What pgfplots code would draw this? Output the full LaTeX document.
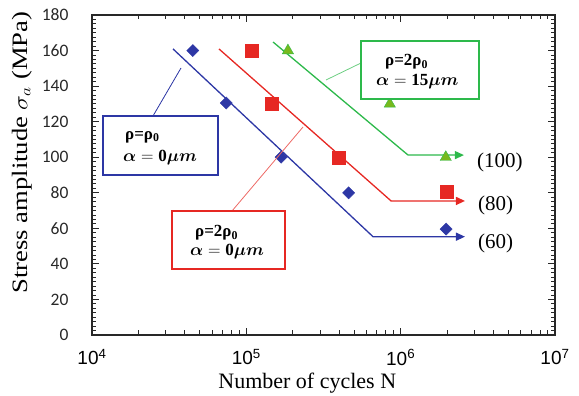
\documentclass[border=0pt]{standalone}
\usepackage{fontspec}
\setmainfont{Liberation Serif}
\setsansfont{Liberation Sans}
\newfontfamily\carlito{Carlito}
\usepackage{bm}
\usepackage{graphicx}
\usepackage{pgfplots}
\pgfplotsset{compat=1.18}
\usetikzlibrary{arrows.meta}
\definecolor{cblue}{RGB}{45,55,165}
\definecolor{cred}{RGB}{230,40,35}
\definecolor{cgreen}{RGB}{45,185,75}
\definecolor{cgfill}{RGB}{120,185,30}
\definecolor{axgray}{RGB}{40,40,40}
\begin{document}
\begin{tikzpicture}
\begin{axis}[
  at={(0,0)}, anchor=south west,
  scale only axis, width=463pt, height=320pt,
  xmode=log, log basis x=10,
  xmin=1e4, xmax=1e7, ymin=0, ymax=180,
  xtick={1e4,1e5,1e6,1e7},
  xticklabels={10\textsuperscript{4},10\textsuperscript{5},10\textsuperscript{6},10\textsuperscript{7}},
  xticklabel style={font=\sffamily\fontsize{19}{19}\selectfont, yshift=-11pt},
  ytick={0,20,...,180},
  yticklabel style={font=\carlito\fontsize{17.5}{17.5}\selectfont, xshift=-20pt, text=axgray},
  /pgf/number format/assume math mode=true,
  minor y tick num=7,
  xtick style={draw=none}, ytick style={draw=none},
  xlabel={Number of cycles N},
  ylabel={\scalebox{1.21}[1]{Stress amplitude $\sigma_a$ (MPa)}},
  label style={font=\fontsize{22}{22}\selectfont},
  xlabel style={at={(axis description cs:0.465,-0.15)}, anchor=center},
  ylabel style={at={(axis description cs:-0.151,0.57)}, anchor=center},
  clip=false,
]
% fitted lines
\addplot[cblue, line width=1.3pt, -{Triangle[length=9pt,width=8pt]}] coordinates {(3.35e4,160.9) (6.62e5,55.3) (2.61e6,55.3)};
\addplot[cred, line width=1.3pt, -{Triangle[length=9pt,width=8pt]}] coordinates {(6.65e4,160.9) (8.67e5,75.4) (2.61e6,75.4)};
\addplot[cgreen, line width=1.3pt, -{Triangle[length=9pt,width=8pt]}] coordinates {(1.49e5,164.8) (1.117e6,101.2) (2.57e6,101.2)};
% data
\addplot[only marks, mark=square*, mark size=4.3pt, mark options={rotate=45, fill=cblue, draw=cblue}] coordinates {(4.5e4,160) (7.4e4,130.5) (1.68e5,100) (4.6e5,80) (1.97e6,59.6)};
\addplot[only marks, mark=square*, mark size=6.5pt, mark options={fill=cred, draw=cred}] coordinates {(1.09e5,160) (1.47e5,130) (3.98e5,100) (2.0e6,80.4)};
\addplot[only marks, mark=triangle*, mark size=6.5pt, mark options={fill=cgfill, draw=cgreen}] coordinates {(1.86e5,160) (8.5e5,130) (1.96e6,100)};
\end{axis}
\begin{scope}[x=1pt, y=-1pt, shift={(-92pt,335pt)}]
  % frame and inward ticks
  \foreach \i in {0,...,72} {
    \draw[axgray, line width=0.9pt] (92,{335-\i*4.44444}) -- ++(4.5,0);
    \draw[axgray, line width=0.9pt] (555,{335-\i*4.44444}) -- ++(-4.5,0);
  }
  \foreach \i in {1,...,8} {
    \draw[axgray, line width=0.9pt] (92,{335-\i*35.5556}) -- ++(7,0);
    \draw[axgray, line width=0.9pt] (555,{335-\i*35.5556}) -- ++(-7,0);
  }
  \foreach \d in {0,154.333,308.667} {
    \foreach \m in {46.45,73.62,92.90,107.85,120.07,130.40,139.35,147.24} {
      \draw[axgray, line width=0.9pt] ({92+\d+\m},335) -- ++(0,-4.5);
      \draw[axgray, line width=0.9pt] ({92+\d+\m},15) -- ++(0,4.5);
    }
  }
  \foreach \x in {246.333,400.667} {
    \draw[axgray, line width=0.9pt] (\x,335) -- ++(0,-7);
    \draw[axgray, line width=0.9pt] (\x,15) -- ++(0,7);
  }
  \draw[axgray, line width=1.5pt] (92,15) rectangle (555,335);
  % labels
  \node[anchor=west, inner sep=0pt, font=\fontsize{21}{21}\selectfont] at (477,162) {(100)};
  \node[anchor=west, inner sep=0pt, font=\fontsize{21}{21}\selectfont] at (478,205) {(80)};
  \node[anchor=west, inner sep=0pt, font=\fontsize{21}{21}\selectfont] at (478,243) {(60)};
  % blue box
  \draw[cblue, line width=0.8pt] (153,116) -- (181,68);
  \draw[cblue, line width=1.3pt, fill=white] (103,116) rectangle (218,175);
  \node[anchor=west, inner sep=0pt, font=\fontsize{17}{17}\selectfont\bfseries] at (125,137) {ρ=ρ\textsubscript{0}};
  \node[anchor=west, inner sep=0pt, font=\fontsize{17}{17}\selectfont] at (123,158) {$\bm{\alpha} = \mathbf{0}\bm{\mu}\bm{m}$};
  % red box
  \draw[cred!70, line width=0.8pt] (232,211) -- (303,127);
  \draw[cred, line width=1.3pt, fill=white] (172,211) rectangle (285,269);
  \node[anchor=west, inner sep=0pt, font=\fontsize{17}{17}\selectfont\bfseries] at (195,233) {ρ=2ρ\textsubscript{0}};
  \node[anchor=west, inner sep=0pt, font=\fontsize{17}{17}\selectfont] at (190,252) {$\bm{\alpha} = \mathbf{0}\bm{\mu}\bm{m}$};
  % green box
  \draw[cgreen!70, line width=0.8pt] (361,63) -- (326,80);
  \draw[cgreen, line width=1.3pt, fill=white] (361,41) rectangle (479,99);
  \node[anchor=west, inner sep=0pt, font=\fontsize{17}{17}\selectfont\bfseries] at (385,62) {ρ=2ρ\textsubscript{0}};
  \node[anchor=west, inner sep=0pt, font=\fontsize{17}{17}\selectfont] at (376,82) {$\bm{\alpha} = \mathbf{15}\bm{\mu}\bm{m}$};
  \pgfresetboundingbox
  \path[use as bounding box] (0,0) rectangle (579,396);
\end{scope}
\end{tikzpicture}
\end{document}
